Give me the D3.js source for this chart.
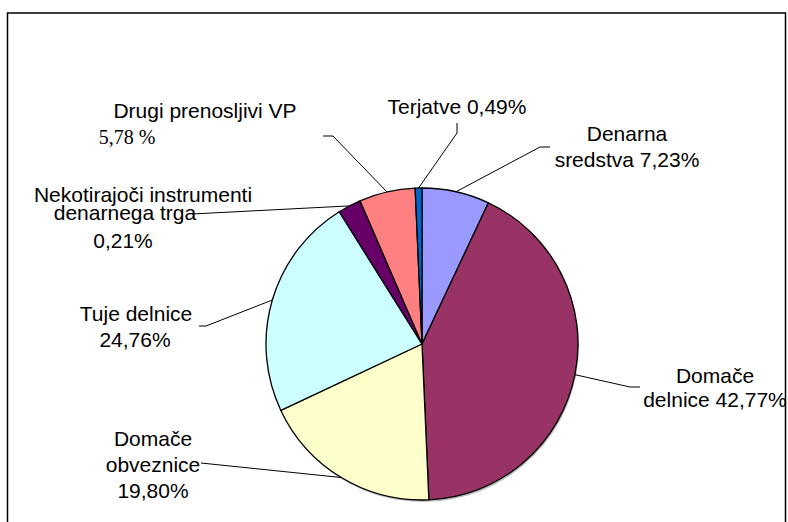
<!DOCTYPE html>
<meta charset="utf-8">
<body>
<svg id="chart"></svg>
</body>
<script src="https://d3js.org/d3.v7.min.js"></script>
<script>

// categories in drawing order, clockwise from 12 o'clock
var categories = ["Denarna sredstva", "Domače delnice", "Domače obveznice", "Tuje delnice",
                  "Nekotirajoči instrumenti denarnega trga", "Drugi prenosljivi VP", "Terjatve"];
// slice shares as drawn in the picture
var shares = [7.0, 42.3, 18.7, 23.1, 2.4, 5.8, 0.7];
var colors = ["#9999ff", "#993366", "#ffffcc", "#ccffff", "#660066", "#ff8080", "#0066cc"];
// data label texts, one entry per line
var labelText = [
  ["Denarna", "sredstva 7,23%"],
  ["Domače", "delnice 42,77%"],
  ["Domače", "obveznice", "19,80%"],
  ["Tuje delnice", "24,76%"],
  ["Nekotirajoči instrumenti", "denarnega trga", "0,21%"],
  ["Drugi prenosljivi VP", "5,78 %"],
  ["Terjatve 0,49%"]
];

var width = 788, height = 522;
var cx = 422, cy = 344, radius = 156;

// where each label sits (line centres / baselines) and the bends of its leader line
var labelLayout = [
  {lines: [[627, 141], [627, 167]], bend: [[550, 147], [540, 147]]},
  {lines: [[715, 383], [715, 407]], bend: [[640, 387], [630, 387]]},
  {lines: [[153, 446], [153, 472], [153, 498]], bend: [[201, 463]]},
  {lines: [[136, 321], [135, 347]], bend: [[199, 326], [206, 326]]},
  {lines: [[143, 202], [125, 220], [123, 248]], bend: [[192, 214]]},
  {lines: [[205, 118], [127, 144]], bend: [[323, 136], [333, 136]]},
  {lines: [[457, 114]], bend: [[457, 123], [457, 133]]}
];

var svg = d3.select("#chart")
    .attr("width", width)
    .attr("height", height)
    .style("display", "block");

svg.append("rect")
    .attr("width", width).attr("height", height)
    .attr("fill", "white");

var data = categories.map(function(c, i) { return {name: c, value: shares[i], idx: i}; });

var pie = d3.pie()
    .sort(null)
    .value(function(d) { return d.value; });

var arc = d3.arc().innerRadius(0).outerRadius(radius);
var edge = d3.arc().innerRadius(radius).outerRadius(radius);

var arcs = pie(data);

var g = svg.append("g").attr("transform", "translate(" + cx + "," + cy + ")");

// faint shadow under the pie
g.append("circle")
    .attr("cx", 1).attr("cy", 2).attr("r", radius)
    .attr("fill", "#bbb");

g.selectAll("path.slice")
    .data(arcs)
    .enter().append("path")
    .attr("class", "slice")
    .attr("d", arc)
    .attr("fill", function(d) { return colors[d.data.idx]; })
    .attr("stroke", "#000")
    .attr("stroke-width", 1.3)
    .attr("stroke-linejoin", "round");

// leader lines
var line = d3.line();
svg.selectAll("path.leader")
    .data(arcs)
    .enter().append("path")
    .attr("class", "leader")
    .attr("d", function(d) {
      var p = edge.centroid(d);
      var pts = labelLayout[d.data.idx].bend.slice();
      pts.push([cx + p[0], cy + p[1]]);
      return line(pts);
    })
    .attr("fill", "none")
    .attr("stroke", "#000")
    .attr("stroke-width", 1);

// data labels
arcs.forEach(function(d) {
  var i = d.data.idx;
  labelText[i].forEach(function(t, j) {
    var pos = labelLayout[i].lines[j];
    var serif = (t === "5,78 %");
    svg.append("text")
      .attr("x", pos[0])
      .attr("y", pos[1])
      .attr("text-anchor", "middle")
      .style("font-family", serif ? "'Liberation Serif', 'Times New Roman', serif" : "'Liberation Sans', Arial, sans-serif")
      .style("font-size", serif ? "20px" : "21px")
      .attr("fill", "#000")
      .text(t);
  });
});

// chart frame
svg.append("rect")
    .attr("x", 7.5).attr("y", 13)
    .attr("width", 778).attr("height", 530)
    .attr("fill", "none")
    .attr("stroke", "#000")
    .attr("stroke-width", 1.5);

</script>
<style>
  body { margin: 0; background: #fff; }
</style>
